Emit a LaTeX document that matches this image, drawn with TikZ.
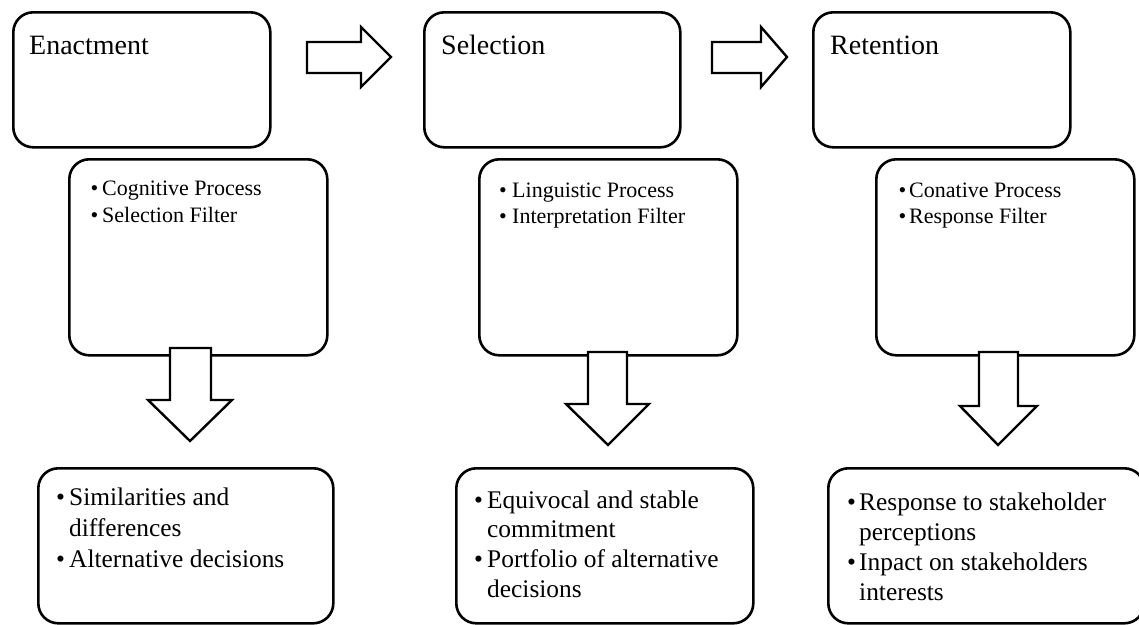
\documentclass[tikz,border=0pt]{standalone}
\usepackage{fontspec}
\setmainfont{Liberation Serif}
\begin{document}
\begin{tikzpicture}[x=1pt,y=-1pt,
  box/.style={draw, line width=2.6pt, rounded corners=20pt, inner sep=0pt, anchor=north west},
  blockarrow/.style={draw, fill=white, line width=2.4pt, line join=miter},
  ttl/.style={anchor=base west, inner sep=0pt, font=\fontsize{28}{34}\selectfont},
  mid/.style={anchor=base west, inner sep=0pt, font=\fontsize{22}{26}\selectfont},
  bot/.style={anchor=base west, inner sep=0pt, font=\fontsize{25.4}{30}\selectfont}]
\useasboundingbox (0,0) rectangle (1139,624);

% top boxes
\node[box, minimum width=257pt, minimum height=135pt] (en) at (12,11) {};
\node[box, minimum width=256pt, minimum height=135pt] (se) at (423,11) {};
\node[box, minimum width=257pt, minimum height=135pt] (re) at (812,11) {};
\node[ttl] (ent) at (29,54) {Enactment};
\node[ttl] (set) at (441,54) {Selection};
\node[ttl] (ret) at (830,54) {Retention};

% right block arrows
\draw[blockarrow] (307,42) -- (361,42) -- (361,27) -- (391,57) -- (361,87) -- (361,73) -- (307,73) -- cycle;
\draw[blockarrow] (712,42) -- (761,42) -- (761,27) -- (787,57) -- (761,87) -- (761,73) -- (712,73) -- cycle;

% middle boxes
\node[box, minimum width=258pt, minimum height=196pt] (m1) at (68,158) {};
\node[box, minimum width=258pt, minimum height=196pt] (m2) at (478,158) {};
\node[box, minimum width=258pt, minimum height=196pt] (m3) at (875,158) {};

\node[mid] (m1b1) at (90.5,195) {•};
\node[mid] (m1t1) at (102,195) {Cognitive Process};
\node[mid] (m1b2) at (90.5,222) {•};
\node[mid] (m1t2) at (102,222) {Selection Filter};

\node[mid] (m2b1) at (499,197) {•};
\node[mid] (m2t1) at (512,197) {Linguistic Process};
\node[mid] (m2b2) at (499,223) {•};
\node[mid] (m2t2) at (512,223) {Interpretation Filter};

\node[mid] (m3b1) at (898.5,197) {•};
\node[mid] (m3t1) at (909,197) {Conative Process};
\node[mid] (m3b2) at (898.5,223) {•};
\node[mid] (m3t2) at (909,223) {Response Filter};

% down block arrows
\draw[blockarrow] (170,348) -- (211,348) -- (211,400) -- (232,400) -- (190,441) -- (148,400) -- (170,400) -- cycle;
\draw[blockarrow] (588,352) -- (627,352) -- (627,404) -- (649,404) -- (608,445) -- (566,404) -- (588,404) -- cycle;
\draw[blockarrow] (979,352) -- (1018,352) -- (1018,406) -- (1037,406) -- (998,445) -- (960,406) -- (979,406) -- cycle;

% bottom boxes
\node[box, minimum width=295pt, minimum height=155pt] (b1) at (37,467) {};
\node[box, minimum width=297pt, minimum height=155pt] (b2) at (455,467) {};
\node[box, minimum width=316pt, minimum height=155pt] (b3) at (827,467) {};

\node[bot] (b1b1) at (56,505) {•};
\node[bot] (b1t1) at (69,505) {Similarities and};
\node[bot] (b1t2) at (69,536) {differences};
\node[bot] (b1b2) at (56,567) {•};
\node[bot] (b1t3) at (69,567) {Alternative decisions};

\node[bot] (b2b1) at (474,508) {•};
\node[bot] (b2t1) at (487,508) {Equivocal and stable};
\node[bot] (b2t2) at (487,537) {commitment};
\node[bot] (b2b2) at (474,567) {•};
\node[bot] (b2t3) at (487,567) {Portfolio of alternative};
\node[bot] (b2t4) at (487,597) {decisions};

\node[bot] (b3b1) at (847,510) {•};
\node[bot] (b3t1) at (859,510) {Response to stakeholder};
\node[bot] (b3t2) at (859,540) {perceptions};
\node[bot] (b3b2) at (847,570) {•};
\node[bot] (b3t3) at (859,570) {Inpact on stakeholders};
\node[bot] (b3t4) at (859,600) {interests};
\end{tikzpicture}
\end{document}
